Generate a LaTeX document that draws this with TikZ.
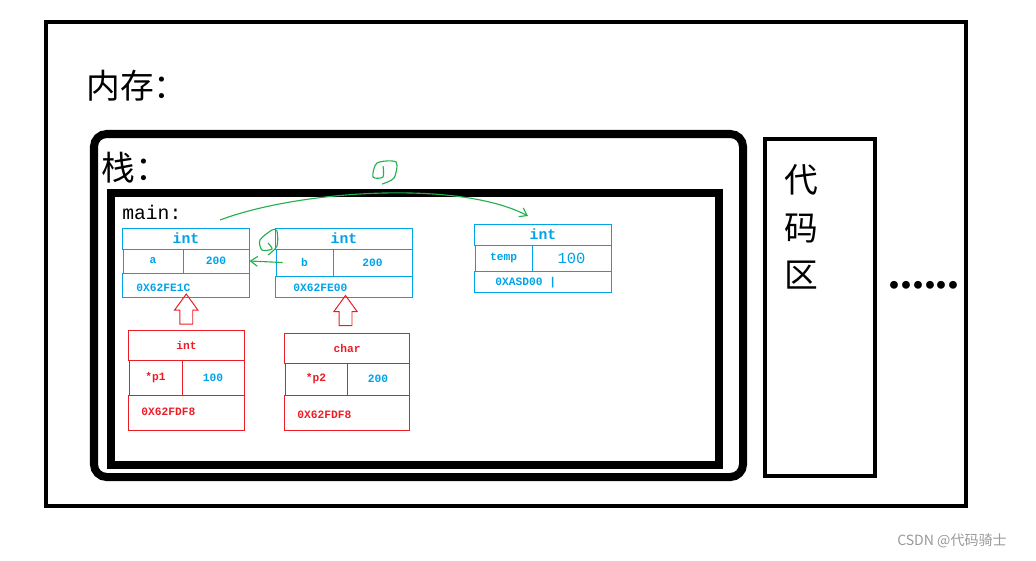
\documentclass[tikz,border=0pt]{standalone}
\usepackage{fontspec}
\setmonofont{Liberation Mono}
\newfontfamily\cjk{Noto Sans CJK SC}
\newfontfamily\dotfont{Liberation Serif}
\usetikzlibrary{arrows.meta,shapes.arrows,calc}
\definecolor{paintblue}{RGB}{0,162,232}
\definecolor{paintred}{RGB}{237,28,36}
\definecolor{paintgreen}{RGB}{34,177,76}

\begin{document}
\begin{tikzpicture}[
    x=0.025cm, y=-0.025cm,
    region/.style={draw=black, line width=2.8pt},
    cell/.style={rectangle, draw=paintblue, line width=0.7pt, inner sep=0pt,
        text=paintblue, font=\ttfamily\bfseries\fontsize{8}{9}\selectfont},
    ptr_cell/.style={cell, draw=paintred, text=paintred},
    type_cell/.style={cell, font=\ttfamily\bfseries\fontsize{10.5}{12}\selectfont},
    addr/.style={anchor=west, inner sep=0pt, text=paintblue,
        font=\ttfamily\bfseries\fontsize{8}{9}\selectfont},
    ptr_addr/.style={addr, text=paintred},
    hollow/.style={single arrow, draw=paintred, line width=0.7pt, rotate=90,
        minimum height=0.75cm, inner xsep=0pt, inner ysep=0.15cm,
        single arrow head extend=0.13cm, single arrow tip angle=72},
    green_line/.style={paintgreen, line width=0.8pt},
    green_arrow/.style={green_line, -{Straight Barb[length=5pt,width=7pt]}},
    cjk_text/.style={font=\cjk\fontsize{24}{34}\selectfont, inner sep=0pt}
]
\useasboundingbox (0,0) rectangle (1036,560);

% 内存、栈、main、代码区
\draw[region] (46,22) rectangle (966,506);
\draw[region, line width=5.7pt, rounded corners=9pt] (94,134) rectangle (743,477);
\draw[region, line width=5.7pt] (111,193) rectangle (719,465);
\draw[region, line width=3.5pt] (765,139) rectangle (875,476);

\node[cjk_text, anchor=west] (mem) at (86,86) {内存：};
\node[cjk_text, anchor=west] (stack) at (101,168) {栈：};
\node[anchor=west, inner sep=0pt, font=\ttfamily\fontsize{14}{16}\selectfont] (main) at (122,212) {main:};
\node[cjk_text, align=center] (code) at (801,227) {代\\码\\区};
\node[inner sep=0pt, font=\dotfont\bfseries\fontsize{34}{38}\selectfont] (dots) at (924,285) {......};
\node[inner sep=0pt, text=black!40, font=\cjk\fontsize{10}{12}\selectfont] (mark) at (952,541) {CSDN @代码骑士};

% 变量 a
\node[type_cell, minimum width=3.15cm, minimum height=0.525cm] (a_type) at (186,238.5) {int};
\node[cell, minimum width=1.5cm, minimum height=0.6cm] (a_name) at (153,261) {a};
\node[cell, minimum width=1.65cm, minimum height=0.6cm] (a_val) at (216,261) {200};
\node[cell, minimum width=3.15cm, minimum height=0.6cm] (a_addr) at (186,285) {};
\node[addr] (a_addr_txt) at (136,288) {0X62FE1C};

% 变量 b
\node[type_cell, minimum width=3.4cm, minimum height=0.525cm] (b_type) at (344,238.5) {int};
\node[cell, minimum width=1.425cm, minimum height=0.675cm] (b_name) at (304.5,262.5) {b};
\node[cell, minimum width=1.975cm, minimum height=0.675cm] (b_val) at (372.5,262.5) {200};
\node[cell, minimum width=3.4cm, minimum height=0.525cm] (b_addr) at (344,286.5) {};
\node[addr] (b_addr_txt) at (293,288) {0X62FE00};

% 变量 temp
\node[type_cell, minimum width=3.4cm, minimum height=0.525cm] (t_type) at (543,234.5) {int};
\node[cell, minimum width=1.425cm, minimum height=0.65cm] (t_name) at (503.5,258) {temp};
\node[cell, minimum width=1.975cm, minimum height=0.65cm,
    font=\ttfamily\fontsize{11}{12}\selectfont] (t_val) at (571.5,258) {100};
\node[cell, minimum width=3.4cm, minimum height=0.525cm] (t_addr) at (543,281.5) {};
\node[addr] (t_addr_txt) at (495,283) {0XASD00 |};

% 指针 p1
\node[ptr_cell, minimum width=2.875cm, minimum height=0.75cm] (p1_type) at (186.5,345) {int};
\node[ptr_cell, minimum width=1.325cm, minimum height=0.875cm] (p1_name) at (155.5,377.5) {*p1};
\node[ptr_cell, minimum width=1.55cm, minimum height=0.875cm, text=paintblue] (p1_val) at (213,377.5) {100};
\node[ptr_cell, minimum width=2.875cm, minimum height=0.875cm] (p1_addr) at (186.5,412.5) {};
\node[ptr_addr] (p1_addr_txt) at (141,412) {0X62FDF8};

% 指针 p2
\node[ptr_cell, minimum width=3.1cm, minimum height=0.75cm] (p2_type) at (347,348) {char};
\node[ptr_cell, minimum width=1.55cm, minimum height=0.8cm] (p2_name) at (316,379) {*p2};
\node[ptr_cell, minimum width=1.55cm, minimum height=0.8cm, text=paintblue] (p2_val) at (378,379) {200};
\node[ptr_cell, minimum width=3.1cm, minimum height=0.875cm] (p2_addr) at (347,412.5) {};
\node[ptr_addr] (p2_addr_txt) at (297,415) {0X62FDF8};

% 指向箭头
\node[hollow] (up1) at ($(p1_type.north)!0.5!(a_addr.south)$) {};
\node[hollow] (up2) at ($(p2_type.north)!0.5!(b_addr.south)$) {};

% 交换过程
\coordinate (g_start) at (220,220);
\coordinate (g_end) at (528,216);
\draw[green_arrow] (g_start) .. controls (300,190) and (460,180) .. (g_end);
\draw[green_arrow] ([xshift=5pt]b_name.west) -- (a_val.east);
\draw[green_line] plot[smooth] coordinates {(382,184) (394,178) (396,162) (377,163) (373,177) (383,177) (383,166)};
\draw[green_line] plot[smooth] coordinates {(268,255) (277,246) (277,231) (272,230) (260,240) (262,250) (272,249) (268,243)};

\end{tikzpicture}
\end{document}
